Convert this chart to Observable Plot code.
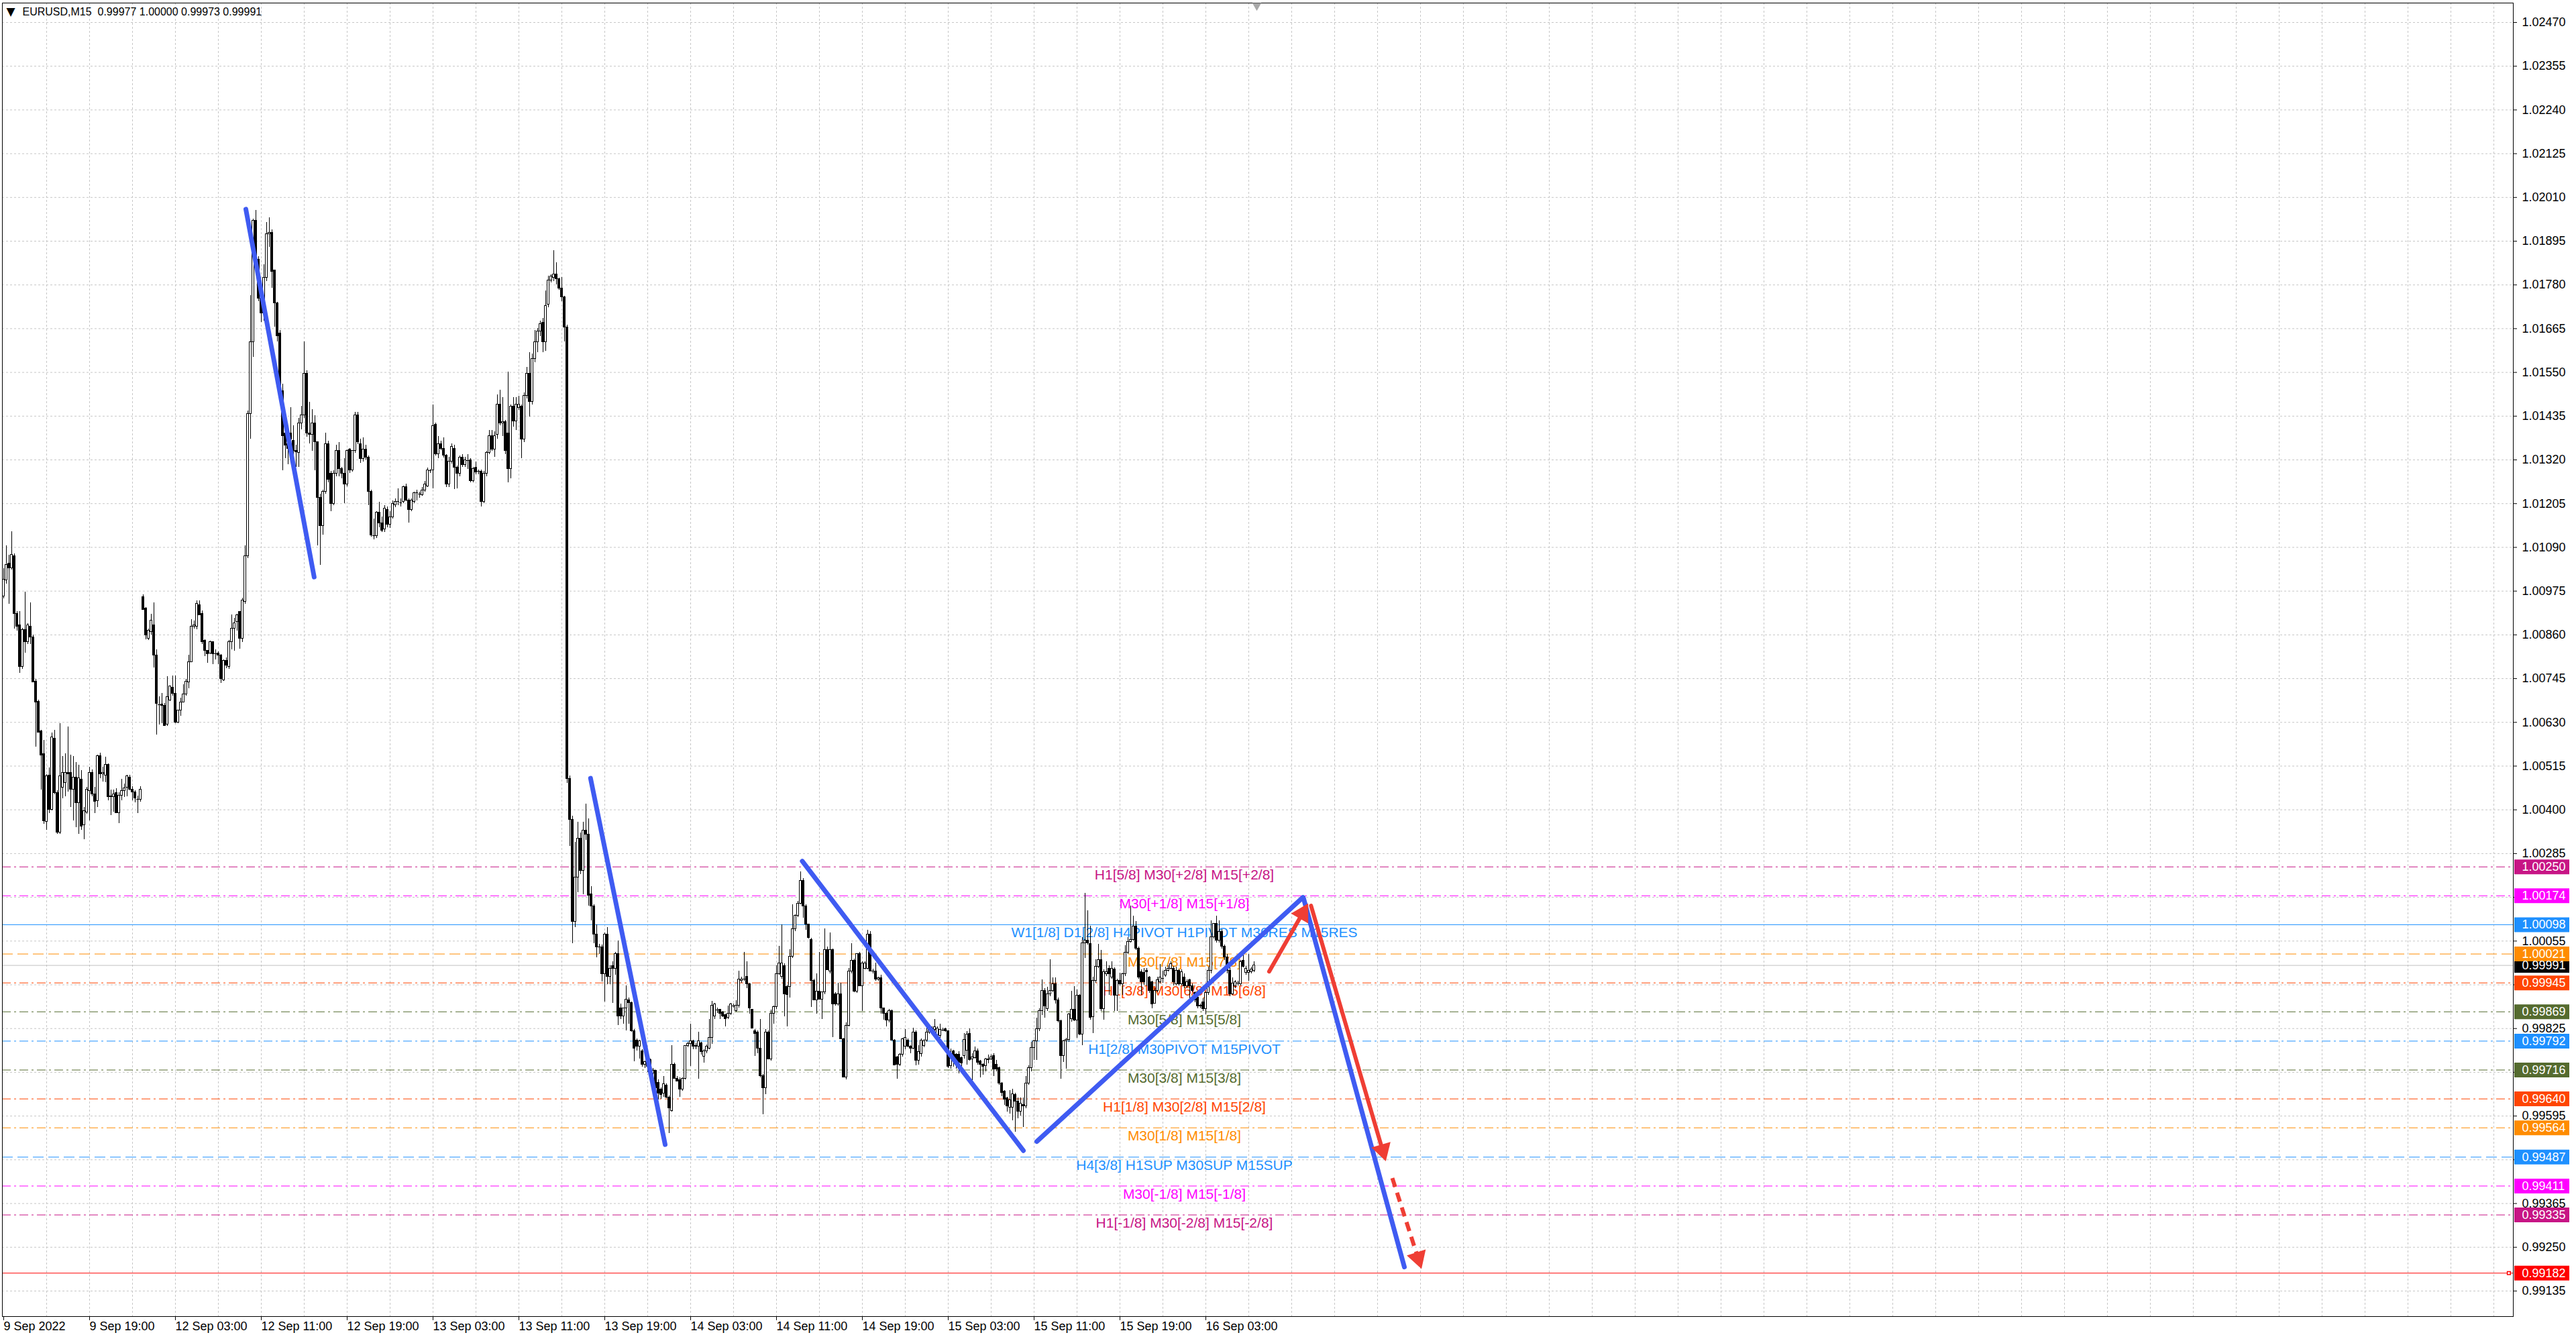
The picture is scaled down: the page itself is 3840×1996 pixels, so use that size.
<!DOCTYPE html>
<html><head><meta charset="utf-8"><title>EURUSD,M15</title>
<script src="https://cdn.jsdelivr.net/npm/d3@7"></script>
<script src="https://cdn.jsdelivr.net/npm/@observablehq/plot@0.6"></script>
<style>html,body{margin:0;padding:0;background:#fff}#chart svg{display:block}</style>
</head><body><div id="chart"></div><script>
const symbol = "EURUSD", timeframe = "M15";
// OHLC of each M15 bar, in points (1e-5), bar 0 = 9 Sep 2022 11:00
const opens = [
100962,101003,101047,101035,101067,100915,100885,100776,100873,100841,
100882,100853,100738,100685,100606,100547,100368,100491,100400,100588,
100444,100341,100459,100471,100497,100497,100453,100485,100418,100480,
100359,100394,100450,100497,100441,100424,100541,100494,100491,100518,
100433,100433,100444,100391,100438,100450,100459,100485,100453,100447,
100430,100427,100959,100929,100850,100868,100885,100806,100677,100677,
100674,100624,100688,100721,100706,100630,100662,100682,100703,100735,
100788,100882,100882,100938,100915,100844,100818,100812,100841,100809,
100812,100806,100741,100791,100776,100841,100876,100894,100921,100850,
100947,101067,101441,101630,101949,101846,101744,101705,101799,101913,
101917,101818,101732,101653,101500,101390,101362,101390,101370,101343,
101339,101417,101437,101547,101390,101386,101417,101366,101221,101146,
101236,101362,101284,101205,101284,101343,101296,101284,101256,101347,
101292,101343,101437,101362,101323,101347,101327,101236,101122,101120,
101181,101154,101138,101189,101150,101170,101201,101209,101210,101209,
101248,101213,101189,101209,101232,101230,101228,101240,101250,101292,
101292,101413,101335,101362,101350,101331,101256,101315,101350,101299,
101284,101327,101307,101320,101319,101264,101300,101290,101290,101209,
101284,101339,101382,101347,101386,101465,101417,101420,101390,101296,
101461,101421,101457,101461,101374,101488,101547,101472,101586,101630,
101657,101681,101630,101728,101791,101799,101807,101795,101771,101748,
101669,100482,100374,100105,100223,100325,100240,100346,100335,100178,
100147,100073,100039,100039,99969,100073,99962,99990,99983,100021,
99878,99857,99878,99899,99892,99819,99794,99777,99766,99731,
99738,99742,99707,99714,99683,99665,99655,99676,99644,99609,
99731,99693,99690,99665,99693,99780,99784,99791,99777,99777,
99787,99752,99766,99773,99801,99857,99875,99874,99867,99861,
99854,99864,99885,99871,99885,99951,99955,99962,99941,99874,
99819,99815,99773,99700,99669,99815,99745,99864,99881,99969,
99962,99990,99934,99934,100014,100087,100122,100154,100213,100147,
100098,100059,99951,99899,99923,99902,99920,100032,99976,100032,
99916,99888,99916,99798,99696,99833,99976,100004,99923,100021,
99937,99983,99983,100073,99976,99976,99955,99958,99878,99864,
99847,99871,99794,99749,99731,99756,99777,99794,99777,99773,
99815,99740,99759,99780,99794,99815,99822,99822,99808,99806,
99821,99824,99818,99727,99765,99756,99756,99747,99753,99768,
99812,99745,99747,99765,99739,99730,99727,99742,99745,99753,
99730,99721,99680,99659,99642,99618,99618,99650,99633,99606,
99624,99621,99680,99721,99774,99792,99824,99871,99924,99877,
99915,99924,99941,99900,99844,99753,99792,99795,99850,99874,
99847,99912,99809,100050,100056,100047,99855,99950,99988,100006,
99877,99968,99983,99959,99980,99912,99950,99941,99968,100024,
100053,100059,100094,100036,99974,99971,99977,99959,99947,99891,
99924,99947,99956,99965,99977,99983,99983,99941,99977,99941,
99959,99936,99953,99936,99918,99906,99886,99894,99877,99918,
99977,100065,100100,100056,100080,100041,100012,99977,99915,99936,
99944,99941,100003,99971,99971,99974,99977];
const highs = [
101035,101094,101070,101132,101073,100921,100921,100878,100973,100890,
100944,100860,100744,100688,100610,100582,100493,100510,100603,100609,
100450,100627,100540,100547,100618,100544,100541,100524,100518,100503,
100406,100459,100512,100505,100459,100544,100550,100512,100538,100521,
100453,100453,100456,100445,100480,100468,100491,100491,100462,100450,
100436,100462,100965,100932,100875,100915,100944,100821,100697,100706,
100680,100750,100726,100753,100753,100662,100694,100729,100744,100806,
100900,100897,100950,100950,100924,100847,100820,100844,100843,100821,
100815,100808,100795,100800,100845,100912,100903,100915,100921,100956,
101094,101449,101752,101953,101976,101854,101750,101834,101945,101956,
101925,101820,101735,101660,101520,101445,101380,101457,101410,101358,
101429,101461,101630,101555,101472,101453,101437,101366,101230,101240,
101390,101370,101290,101292,101358,101366,101300,101323,101347,101350,
101345,101445,101445,101374,101378,101358,101331,101240,101165,101185,
101209,101170,101201,101197,101185,101212,101217,101244,101217,101252,
101256,101217,101217,101236,101240,101236,101248,101264,101299,101296,
101465,101417,101382,101370,101378,101335,101327,101362,101358,101305,
101331,101335,101327,101335,101323,101300,101315,101294,101294,101290,
101343,101398,101398,101394,101492,101504,101484,101425,101551,101465,
101484,101484,101488,101465,101496,101563,101602,101598,101661,101665,
101685,101693,101764,101803,101807,101870,101838,101798,101799,101750,
101675,100490,100384,100314,100367,100340,100367,100415,100377,100199,
100150,100098,100046,100045,100077,100091,99990,100000,100025,100056,
99890,99880,99937,99905,99895,99822,99798,99794,99770,99740,
99745,99745,99720,99716,99690,99670,99700,99680,99648,99780,
99735,99700,99695,99696,99780,99790,99836,99795,99785,99815,
99790,99770,99782,99850,99896,99892,99880,99876,99870,99864,
99885,99892,99890,99899,99976,99960,100025,100000,99945,99876,
99822,99820,99850,99705,99822,99820,99874,99885,99990,100042,
100098,99995,99940,100032,100150,100125,100160,100237,100220,100150,
100100,100062,99955,99969,100025,99920,100087,100040,100077,100035,
99920,99944,99944,99800,99840,99983,100049,100008,100021,100025,
100000,100000,100084,100080,99982,99997,99960,99965,99880,99867,
99875,99874,99797,99752,99760,99800,99822,99798,99780,99826,
99820,99780,99798,99796,99840,99833,99830,99850,99830,99836,
99827,99827,99820,99771,99768,99760,99765,99750,99812,99818,
99824,99759,99777,99771,99742,99733,99747,99756,99755,99759,
99742,99724,99683,99662,99645,99662,99665,99655,99642,99642,
99642,99700,99727,99789,99795,99853,99877,99953,99930,99933,
100006,99959,99959,99906,99848,99795,99800,99865,99924,99936,
99927,99915,100065,100180,100135,100094,99960,100006,100047,100030,
99980,100000,99990,100000,99985,99955,99971,99971,100044,100065,
100147,100121,100106,100040,99980,99983,99983,99962,99950,99930,
99960,99994,99977,99986,99990,100000,99989,99986,99980,99980,
99970,99953,99955,99942,99922,99910,99890,99903,99922,99986,
100109,100097,100121,100109,100085,100045,100020,99985,99959,99951,
99950,100005,100027,99988,100021,99986,100000];
const lows = [
100955,100994,100941,101030,100876,100871,100759,100770,100812,100835,
100835,100735,100565,100603,100453,100362,100347,100390,100397,100440,
100336,100336,100430,100435,100447,100406,100371,100353,100336,100347,
100321,100388,100371,100435,100391,100406,100483,100474,100471,100424,
100385,100394,100391,100365,100424,100433,100435,100450,100424,100418,
100391,100421,100926,100847,100845,100859,100774,100597,100624,100627,
100621,100620,100685,100700,100627,100627,100647,100682,100700,100718,
100788,100876,100873,100912,100835,100803,100785,100809,100782,100794,
100782,100732,100738,100771,100770,100821,100818,100871,100823,100841,
100941,101060,101374,101590,101840,101736,101681,101685,101790,101880,
101771,101669,101630,101480,101291,101323,101307,101323,101300,101300,
101300,101400,101430,101380,101362,101343,101292,101095,101043,101122,
101230,101260,101185,101200,101276,101276,101270,101205,101250,101285,
101288,101337,101360,101311,101315,101320,101201,101118,101110,101114,
101142,101130,101130,101142,101140,101165,101195,101200,101197,101205,
101210,101154,101185,101205,101213,101220,101225,101236,101248,101284,
101244,101330,101323,101345,101325,101248,101248,101310,101242,101244,
101276,101300,101300,101296,101260,101260,101282,101282,101197,101205,
101276,101335,101343,101327,101374,101410,101382,101335,101260,101270,
101406,101398,101450,101323,101366,101480,101433,101465,101575,101602,
101645,101602,101606,101720,101785,101790,101780,101767,101736,101630,
100470,100304,100049,100090,100182,100230,100178,100320,100147,100108,
100049,100011,100021,99948,99895,99941,99941,99892,99965,99833,
99850,99836,99819,99836,99815,99738,99766,99745,99724,99720,
99710,99710,99695,99655,99637,99640,99645,99641,99550,99606,
99693,99686,99644,99660,99690,99775,99725,99770,99770,99693,
99755,99735,99760,99770,99784,99850,99865,99850,99855,99829,
99850,99860,99880,99868,99880,99945,99950,99930,99864,99826,
99752,99759,99696,99599,99651,99745,99740,99836,99876,99965,
99955,99857,99829,99906,100010,100080,100118,100150,100115,100084,
100060,99881,99899,99864,99902,99850,99915,99978,99970,99801,
99885,99885,99798,99696,99690,99830,99970,99920,99918,99937,
99871,99980,99980,99976,99970,99950,99950,99864,99847,99829,
99840,99794,99728,99693,99725,99750,99770,99775,99759,99770,
99728,99730,99750,99775,99790,99810,99815,99815,99800,99800,
99818,99815,99721,99718,99724,99718,99706,99718,99745,99730,
99739,99689,99745,99730,99695,99703,99712,99733,99742,99700,
99712,99677,99647,99624,99606,99600,99583,99553,99589,99595,
99565,99615,99677,99712,99742,99742,99818,99859,99853,99871,
99910,99920,99889,99840,99692,99736,99718,99790,99842,99844,
99800,99806,99780,100010,100045,99847,99812,99945,99983,99871,
99847,99962,99912,99955,99871,99871,99938,99912,99962,100020,
100050,100055,100030,99955,99912,99940,99936,99918,99877,99889,
99920,99943,99944,99960,99974,99980,99938,99938,99938,99938,
99930,99930,99900,99920,99894,99877,99877,99871,99862,99912,
99970,100060,100050,100050,100035,100005,99970,99909,99912,99930,
99938,99938,99985,99965,99950,99970,99973];
const closes = [
101006,101044,101035,101070,100915,100882,100776,100873,100841,100885,
100853,100735,100682,100603,100544,100371,100488,100400,100591,100444,
100341,100488,100497,100497,100494,100453,100485,100418,100483,100356,
100397,100453,100497,100441,100421,100541,100494,100497,100518,100433,
100435,100441,100391,100438,100450,100456,100488,100453,100447,100430,
100428,100453,100926,100859,100871,100897,100806,100679,100677,100674,
100621,100697,100724,100706,100630,100662,100682,100703,100738,100788,
100882,100885,100941,100912,100841,100818,100809,100841,100809,100810,
100806,100744,100791,100779,100841,100876,100891,100912,100850,100950,
101067,101441,101630,101949,101846,101744,101705,101799,101913,101917,
101815,101732,101646,101510,101382,101358,101350,101374,101343,101340,
101417,101437,101547,101390,101386,101417,101366,101221,101146,101236,
101362,101268,101205,101284,101343,101296,101284,101256,101343,101292,
101343,101437,101366,101323,101347,101327,101236,101122,101120,101181,
101154,101134,101193,101150,101170,101205,101209,101210,101208,101248,
101213,101189,101213,101232,101234,101230,101240,101256,101292,101292,
101410,101335,101362,101350,101331,101256,101315,101354,101299,101284,
101327,101307,101319,101319,101264,101296,101288,101290,101209,101284,
101339,101382,101347,101382,101465,101417,101420,101343,101296,101461,
101421,101465,101465,101374,101488,101547,101472,101586,101630,101657,
101677,101630,101724,101791,101803,101807,101795,101771,101748,101669,
100482,100374,100105,100223,100325,100240,100346,100335,100175,100147,
100073,100039,100040,99969,100073,99962,99983,99983,100021,99857,
99857,99878,99902,99892,99819,99773,99777,99791,99731,99738,
99724,99714,99714,99669,99655,99651,99679,99644,99616,99731,
99693,99686,99665,99693,99780,99784,99791,99777,99780,99791,
99763,99766,99777,99801,99885,99888,99874,99864,99857,99850,
99864,99888,99885,99885,99955,99955,99955,99941,99878,99826,
99812,99773,99700,99669,99815,99745,99864,99881,99969,99997,
99997,99916,99913,100014,100087,100122,100154,100213,100147,100098,
100063,99951,99899,99923,99902,99920,100032,99979,100032,99888,
99888,99916,99798,99696,99833,99976,100004,99923,100021,99937,
99997,99997,100073,99976,99976,99955,99958,99878,99864,99847,
99871,99794,99728,99731,99756,99798,99801,99777,99773,99815,
99740,99763,99794,99791,99815,99826,99826,99829,99826,99821,
99821,99818,99724,99756,99742,99733,99736,99733,99795,99809,
99742,99750,99765,99736,99730,99724,99745,99745,99750,99718,
99718,99680,99656,99639,99621,99636,99653,99633,99606,99627,
99621,99680,99721,99774,99792,99824,99871,99924,99883,99915,
99924,99941,99900,99844,99753,99792,99795,99862,99874,99847,
99912,99809,100050,100056,100050,99853,99950,99988,100006,99877,
99974,99974,99968,99983,99912,99950,99941,99968,100024,100053,
100059,100094,100036,99959,99947,99947,99974,99924,99889,99924,
99953,99959,99957,99977,99983,99994,99947,99977,99941,99974,
99936,99947,99936,99924,99900,99883,99883,99877,99918,99977,
100065,100100,100056,100080,100041,100012,99977,99915,99944,99947,
99944,100000,99988,99983,99977,99980,99991];

// right price scale
const priceTicks = [0.99135,0.99250,0.99365,0.99480,0.99595,0.99710,0.99825,0.99940,1.00055,1.00170,
  1.00285,1.00400,1.00515,1.00630,1.00745,1.00860,1.00975,1.01090,1.01205,1.01320,
  1.01435,1.01550,1.01665,1.01780,1.01895,1.02010,1.02125,1.02240,1.02355,1.02470];
// time scale (bar index -> label)
const timeBars = [0,32,64,96,128,160,192,224,256,288,320,352,384,416,448];
const timeLabels = ["9 Sep 2022","9 Sep 19:00","12 Sep 03:00","12 Sep 11:00","12 Sep 19:00","13 Sep 03:00",
  "13 Sep 11:00","13 Sep 19:00","14 Sep 03:00","14 Sep 11:00","14 Sep 19:00","15 Sep 03:00",
  "15 Sep 11:00","15 Sep 19:00","16 Sep 03:00"];

// Murrey math levels
const levelPrices = [1.00250,1.00174,1.00098,1.00021,0.99945,0.99869,0.99792,0.99716,0.99640,0.99564,0.99487,0.99411,0.99335];
const levelNames = ["H1[5/8] M30[+2/8] M15[+2/8]","M30[+1/8] M15[+1/8]","W1[1/8] D1[2/8] H4PIVOT H1PIVOT M30RES M15RES",
  "M30[7/8] M15[7/8]","H1[3/8] M30[6/8] M15[6/8]","M30[5/8] M15[5/8]","H1[2/8] M30PIVOT M15PIVOT",
  "M30[3/8] M15[3/8]","H1[1/8] M30[2/8] M15[2/8]","M30[1/8] M15[1/8]","H4[3/8] H1SUP M30SUP M15SUP",
  "M30[-1/8] M15[-1/8]","H1[-1/8] M30[-2/8] M15[-2/8]"];
const levelColors = ["#C71585","#FF00FF","#1E90FF","#FF8C00","#FF4500","#556B2F","#1E90FF","#556B2F","#FF4500","#FF8C00","#1E90FF","#FF00FF","#C71585"];
const levelStyles = ["dashdot","dashdot","solid","dash","dashdot","dashdot","dashdot","dashdot","dashdot","dashdot","dash","dashdot","dashdot"];
const bidPrice = 0.99991;
const targetPrice = 0.99182;

// hand-drawn trend lines (bar index, price)
const blueStartBar = [90.25, 218.7, 297.6, 385.0, 484.4];
const blueStartPrice = [1.01979, 1.00483, 1.00265, 0.99528, 1.00168];
const blueEndBar = [115.7, 246.5, 380.0, 484.2, 522.0];
const blueEndPrice = [1.01012, 0.99520, 0.99504, 1.00170, 0.99198];
const redStartBar = [471.6, 487.2, 517.5];
const redStartPrice = [0.99975, 1.00148, 0.99432];
const redEndBar = [486.0, 515.0, 528.3];
const redEndPrice = [1.00152, 0.99478, 0.99195];
const redDashed = [false, false, true];

// ---------- layout ----------
const W = 3840, H = 1996;
const mL = 3, mR = 94, mT = 4, mB = 34;
const xDomain = [-0.5, 935.25];
const yDomain = [0.990679, 1.025211];
const labelBar = 440;        // centre of level captions
const boxX1 = 935.75, boxX2 = 956.25, boxTextX = 938.5; // price boxes in right margin
const shiftBar = 467;

const bars = opens.map((o, i) => {
  const O = o / 1e5, C = closes[i] / 1e5;
  return {i, o: O, c: C, h: Math.max(highs[i] / 1e5, O, C), l: Math.min(lows[i] / 1e5, O, C)};
});
const bodies = bars.filter(d => Math.abs(d.o - d.c) >= 0.00002);
const dojis = bars.filter(d => Math.abs(d.o - d.c) < 0.00002);

const levels = levelPrices.map((p, k) => ({p, name: levelNames[k], color: levelColors[k], style: levelStyles[k]}));
const boxes = [{p: bidPrice, color: "#000000"}, ...levels.map(d => ({p: d.p, color: d.color})), {p: targetPrice, color: "#FF0000"}];

const blue = blueStartBar.map((x1, k) => ({x1, y1: blueStartPrice[k], x2: blueEndBar[k], y2: blueEndPrice[k]}));

const xs = Plot.scale({x: {type: "linear", domain: xDomain, range: [mL, W - mR]}});
const ys = Plot.scale({y: {type: "linear", domain: yDomain, range: [H - mB, mT]}});
const heads = [], red = [];
redStartBar.forEach((x1, k) => {
  const y1 = redStartPrice[k], x2 = redEndBar[k], y2 = redEndPrice[k];
  const px1 = xs.apply(x1), py1 = ys.apply(y1), px2 = xs.apply(x2), py2 = ys.apply(y2);
  const dx = px2 - px1, dy = py2 - py1, len = Math.hypot(dx, dy), ux = dx / len, uy = dy / len;
  const back = 16;
  heads.push({x: xs.invert(px2 - ux * back), y: ys.invert(py2 - uy * back), rotate: Math.atan2(dx, -dy) * 180 / Math.PI});
  red.push({x1, y1, x2: xs.invert(px2 - ux * 18), y2: ys.invert(py2 - uy * 18), dashed: redDashed[k]});
});

const timeMap = new Map(timeBars.map((b, k) => [b, timeLabels[k]]));
const last = bars[bars.length - 1];
const fmt = v => v.toFixed(5);
const header = `${symbol},${timeframe}  ${fmt(last.o)} ${fmt(last.h)} ${fmt(last.l)} ${fmt(last.c)}`;
const grey = "#c6c6c6";
const REDC = "#EF3E34", BLUEC = "#3F5BF2";

const chart = Plot.plot({
  width: W, height: H,
  marginLeft: mL, marginRight: mR, marginTop: mT, marginBottom: mB,
  x: {domain: xDomain, axis: null},
  y: {domain: yDomain, axis: null},
  style: {background: "#ffffff", fontFamily: "'Liberation Sans', Arial, sans-serif", color: "#000"},
  marks: [
    // grid
    Plot.ruleY(priceTicks, {stroke: grey, strokeDasharray: "3,3"}),
    Plot.ruleX(d3.range(16, 936, 16), {stroke: grey, strokeDasharray: "3,3"}),
    // levels
    Plot.ruleY(levels.filter(d => d.style === "dashdot"), {y: "p", stroke: "color", strokeDasharray: "13,5,3,5"}),
    Plot.ruleY(levels.filter(d => d.style === "dash"), {y: "p", stroke: "color", strokeDasharray: "16,7"}),
    Plot.ruleY(levels.filter(d => d.style === "solid"), {y: "p", stroke: "color"}),
    Plot.ruleY([bidPrice], {stroke: "#c0c0c0"}),
    Plot.ruleY([targetPrice], {stroke: "#FF0000"}),
    Plot.text(levels, {x: labelBar, y: "p", text: "name", fill: "color", fontSize: 21, dy: 12, lineAnchor: "middle"}),
    // candles
    Plot.ruleX(bars, {x: "i", y1: "l", y2: "h", stroke: "#000", shapeRendering: "crispEdges"}),
    Plot.rect(bodies, {x1: d => d.i - 0.35, x2: d => d.i + 0.35, y1: d => Math.min(d.o, d.c), y2: d => Math.max(d.o, d.c),
      fill: d => d.c >= d.o ? "#ffffff" : "#000000", stroke: "#000", strokeWidth: 1, shapeRendering: "crispEdges"}),
    Plot.ruleY(dojis, {y: "c", x1: d => d.i - 0.4, x2: d => d.i + 0.4, stroke: "#000", shapeRendering: "crispEdges"}),
    // drawings
    Plot.link(blue, {x1: "x1", y1: "y1", x2: "x2", y2: "y2", stroke: BLUEC, strokeWidth: 7, strokeLinecap: "round"}),
    Plot.link(red.filter(d => !d.dashed), {x1: "x1", y1: "y1", x2: "x2", y2: "y2", stroke: REDC, strokeWidth: 6, strokeLinecap: "round"}),
    Plot.link(red.filter(d => d.dashed), {x1: "x1", y1: "y1", x2: "x2", y2: "y2", stroke: REDC, strokeWidth: 6, strokeDasharray: "14,9"}),
    Plot.dot(heads, {x: "x", y: "y", rotate: "rotate", symbol: "triangle", r: 11, fill: REDC, stroke: "none"}),
    Plot.dot([targetPrice], {x: 933.6, y: d => d, symbol: "square", r: 2.6, stroke: "#FF0000", fill: "#fff"}),
    // frame & axes
    Plot.frame({stroke: "#000"}),
    Plot.axisY(priceTicks, {anchor: "right", tickSize: 5, tickPadding: 8, tickFormat: fmt, fontSize: 18, label: null}),
    Plot.axisX(timeBars, {anchor: "bottom", tickSize: 6, tickPadding: 2, tickFormat: b => timeMap.get(b), textAnchor: "start", fontSize: 18, label: null}),
    // price boxes
    Plot.ruleY(boxes, {y: "p", x1: boxX1, x2: boxX2, stroke: "color", strokeWidth: 22}),
    Plot.text(boxes, {x: boxTextX, y: "p", text: d => fmt(d.p), fill: "#fff", textAnchor: "start", fontSize: 18}),
    // header and chart-shift marker
    Plot.text([header], {frameAnchor: "top-left", text: d => d, dx: 30, dy: 13, fontSize: 16, textAnchor: "start", lineAnchor: "middle"}),
    Plot.text(["▼"], {frameAnchor: "top-left", text: d => d, dx: 6, dy: 13, fontSize: 17, fontFamily: "DejaVu Sans", textAnchor: "start", lineAnchor: "middle"}),
    Plot.dot([shiftBar], {x: d => d, frameAnchor: "top", dy: 4, symbol: "triangle", rotate: 180, r: 5, fill: "#a8a8a8"})
  ]
});
document.getElementById("chart").append(chart);
</script></body></html>
